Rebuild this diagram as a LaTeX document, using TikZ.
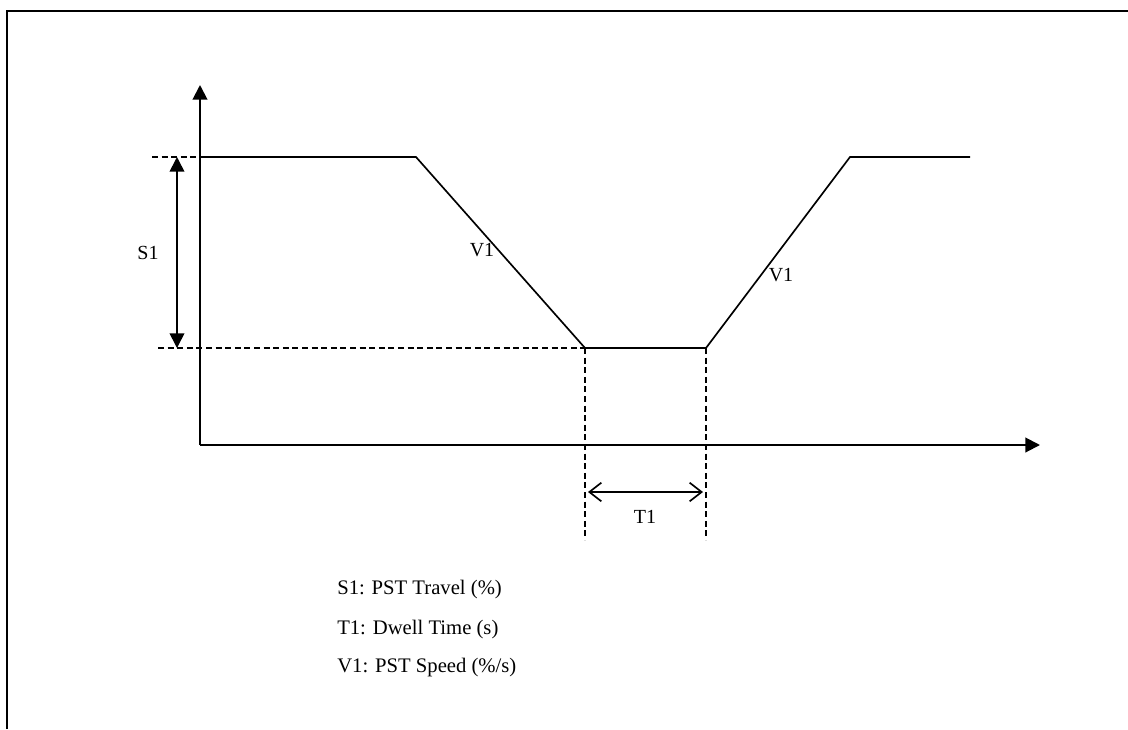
\documentclass[tikz,border=0pt]{standalone}
\usepackage{fontspec}
\setmainfont{Liberation Serif}
\usetikzlibrary{arrows.meta}
\begin{document}
\begin{tikzpicture}[x=0.75pt,y=-0.75pt,
  axis/.style={line width=1.5pt},
  curve/.style={line width=1.25pt},
  guide/.style={line width=1.25pt,dash pattern=on 4.5pt off 2.7pt},
  lbl/.style={font=\fontsize{15pt}{18pt}\selectfont,inner sep=0pt},
  legend/.style={font=\fontsize{15.5pt}{18pt}\selectfont,inner sep=0pt,anchor=west},
  solidtip/.style={-{Triangle[length=11pt,width=11pt]}},
  solidtips/.style={{Triangle[length=11pt,width=11pt]}-{Triangle[length=11pt,width=11pt]}},
  barbtips/.style={{Straight Barb[length=9pt,width=14pt,line width=1.25pt]}-{Straight Barb[length=9pt,width=14pt,line width=1.25pt]}}]
\useasboundingbox (0,0) rectangle (1128,729);
% frame
\draw[line width=1.5pt] (7,729) -- (7,11) -- (1128,11);
% coordinates
\coordinate (O) at (200,445);
\coordinate (Ytop) at (200,85);
\coordinate (Xend) at (1040,445);
\coordinate (A) at (416,157);
\coordinate (B) at (585,348);
\coordinate (C) at (706,348);
\coordinate (D) at (850,157);
\coordinate (E) at (970,157);
\coordinate (Ttl) at (152,157);
\coordinate (Tbl) at (158,348);
\coordinate (S1t) at (177,157);
\coordinate (S1b) at (177,348);
\coordinate (Bd) at (585,540);
\coordinate (Cd) at (706,540);
\coordinate (T1l) at (588,492);
\coordinate (T1r) at (703,492);
% axes
\draw[axis,solidtip] (O) -- (Ytop);
\draw[axis,solidtip] (O) -- (Xend);
% guides
\draw[guide] (Ttl) -- (O |- Ttl);
\draw[guide] (Tbl) -- (B);
\draw[guide] (B) -- (Bd);
\draw[guide] (C) -- (Cd);
% profile
\draw[curve] (O |- A) -- (A) -- (B) -- (C) -- (D) -- (E);
% S1
\draw[curve,solidtips] (S1t) -- (S1b);
\node[lbl] (s1) at (148,253) {S1};
% V1 labels
\node[lbl] (v1a) at (482,250) {V1};
\node[lbl] (v1b) at (781,275) {V1};
% T1
\draw[curve,barbtips] (T1l) -- (T1r);
\node[lbl] (t1) at (645,517) {T1};
% legend
\node[legend] (l1) at (337,590) {S1: PST Travel (\%)};
\node[legend] (l2) at (337,630) {T1: Dwell Time (s)};
\node[legend] (l3) at (337,668) {V1: PST Speed (\%/s)};
\end{tikzpicture}
\end{document}
